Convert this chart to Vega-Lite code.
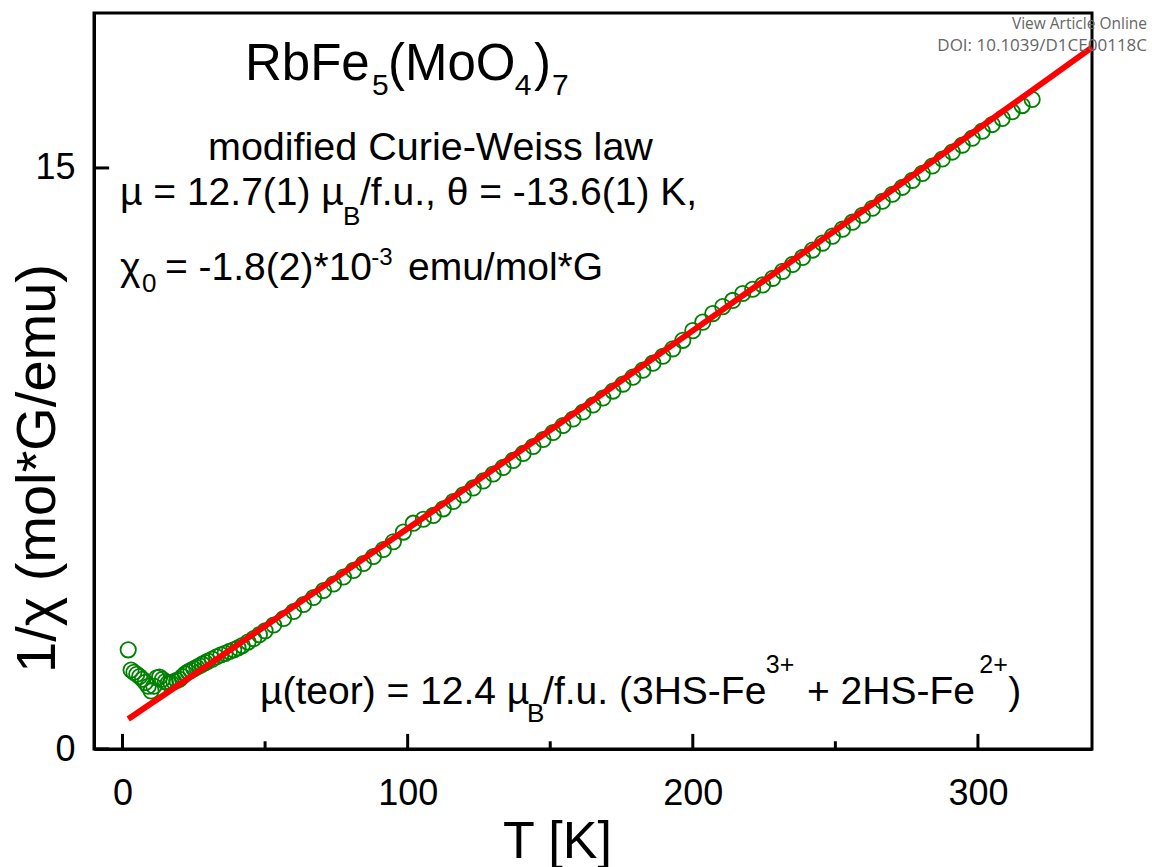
{
  "$schema": "https://vega.github.io/schema/vega-lite/v6.json",
  "width": 998,
  "height": 736,
  "autosize": "none",
  "padding": {"left": 94, "top": 13, "right": 60, "bottom": 118},
  "background": "white",
  "config": {
    "view": {"stroke": "black", "strokeWidth": 3},
    "font": "Liberation Sans",
    "axis": {"grid": false, "ticks": false, "domainColor": "black", "domainWidth": 3, "labelColor": "black", "titleColor": "black", "labelFont": "Liberation Sans", "titleFont": "Liberation Sans", "titleFontWeight": "normal", "labelFlush": false, "labelOverlap": false},
    "text": {"font": "Liberation Sans", "color": "black"}
  },
  "datasets": {
    "meas": [
      {"T": 2, "inv_chi": 2.56}, {"T": 3, "inv_chi": 2.04}, {"T": 4, "inv_chi": 1.98}, {"T": 5, "inv_chi": 1.93},
      {"T": 6, "inv_chi": 1.87}, {"T": 7, "inv_chi": 1.80}, {"T": 8, "inv_chi": 1.72}, {"T": 9, "inv_chi": 1.62},
      {"T": 10, "inv_chi": 1.50}, {"T": 11, "inv_chi": 1.62}, {"T": 12, "inv_chi": 1.84}, {"T": 13, "inv_chi": 1.86},
      {"T": 14, "inv_chi": 1.80}, {"T": 15, "inv_chi": 1.74}, {"T": 16, "inv_chi": 1.70}, {"T": 17, "inv_chi": 1.71},
      {"T": 18, "inv_chi": 1.74}, {"T": 19, "inv_chi": 1.77}, {"T": 20, "inv_chi": 1.80}, {"T": 21, "inv_chi": 1.87},
      {"T": 22, "inv_chi": 1.94}, {"T": 23, "inv_chi": 1.99}, {"T": 24, "inv_chi": 2.03}, {"T": 25, "inv_chi": 2.07},
      {"T": 26, "inv_chi": 2.11}, {"T": 27, "inv_chi": 2.15}, {"T": 28, "inv_chi": 2.19}, {"T": 29, "inv_chi": 2.23},
      {"T": 30, "inv_chi": 2.27}, {"T": 31.5, "inv_chi": 2.32}, {"T": 33, "inv_chi": 2.38}, {"T": 34.5, "inv_chi": 2.43},
      {"T": 36, "inv_chi": 2.47}, {"T": 37.5, "inv_chi": 2.52}, {"T": 39, "inv_chi": 2.56}, {"T": 40.5, "inv_chi": 2.61},
      {"T": 42, "inv_chi": 2.67}, {"T": 44, "inv_chi": 2.76}, {"T": 46, "inv_chi": 2.85},
      {"T": 48, "inv_chi": 2.95}, {"T": 50, "inv_chi": 3.05}, {"T": 53, "inv_chi": 3.20}, {"T": 56.5, "inv_chi": 3.37},
      {"T": 60, "inv_chi": 3.55}, {"T": 63.5, "inv_chi": 3.73}, {"T": 67, "inv_chi": 3.91}, {"T": 70.5, "inv_chi": 4.09},
      {"T": 74, "inv_chi": 4.26}, {"T": 77.5, "inv_chi": 4.44}, {"T": 81, "inv_chi": 4.61}, {"T": 84.5, "inv_chi": 4.79},
      {"T": 88, "inv_chi": 4.97}, {"T": 91.5, "inv_chi": 5.15}, {"T": 95, "inv_chi": 5.35}, {"T": 98.5, "inv_chi": 5.60},
      {"T": 102, "inv_chi": 5.83}, {"T": 105.5, "inv_chi": 5.93}, {"T": 109, "inv_chi": 6.03}, {"T": 112.5, "inv_chi": 6.20},
      {"T": 116, "inv_chi": 6.39}, {"T": 119.5, "inv_chi": 6.56}, {"T": 123, "inv_chi": 6.74}, {"T": 126.5, "inv_chi": 6.92},
      {"T": 130, "inv_chi": 7.10}, {"T": 133.5, "inv_chi": 7.27}, {"T": 137, "inv_chi": 7.45}, {"T": 140.5, "inv_chi": 7.63},
      {"T": 144, "inv_chi": 7.81}, {"T": 147.5, "inv_chi": 7.99}, {"T": 151, "inv_chi": 8.17}, {"T": 154.5, "inv_chi": 8.35},
      {"T": 158, "inv_chi": 8.52}, {"T": 161.5, "inv_chi": 8.70}, {"T": 165, "inv_chi": 8.88}, {"T": 168.5, "inv_chi": 9.06},
      {"T": 172, "inv_chi": 9.24}, {"T": 175.5, "inv_chi": 9.42}, {"T": 179, "inv_chi": 9.60}, {"T": 182.5, "inv_chi": 9.78},
      {"T": 186, "inv_chi": 9.96}, {"T": 189.5, "inv_chi": 10.14}, {"T": 193, "inv_chi": 10.33}, {"T": 196.5, "inv_chi": 10.55},
      {"T": 200, "inv_chi": 10.80}, {"T": 203.5, "inv_chi": 11.02}, {"T": 207, "inv_chi": 11.24}, {"T": 210.5, "inv_chi": 11.42},
      {"T": 214, "inv_chi": 11.58}, {"T": 217.5, "inv_chi": 11.76}, {"T": 221, "inv_chi": 11.87}, {"T": 224.5, "inv_chi": 11.98},
      {"T": 228, "inv_chi": 12.15}, {"T": 231.5, "inv_chi": 12.33}, {"T": 235, "inv_chi": 12.51}, {"T": 238.5, "inv_chi": 12.69},
      {"T": 242, "inv_chi": 12.88}, {"T": 245.5, "inv_chi": 13.06}, {"T": 249, "inv_chi": 13.24}, {"T": 252.5, "inv_chi": 13.42},
      {"T": 256, "inv_chi": 13.60}, {"T": 259.5, "inv_chi": 13.78}, {"T": 263, "inv_chi": 13.96}, {"T": 266.5, "inv_chi": 14.14},
      {"T": 270, "inv_chi": 14.32}, {"T": 273.5, "inv_chi": 14.50}, {"T": 277, "inv_chi": 14.68}, {"T": 280.5, "inv_chi": 14.86},
      {"T": 284, "inv_chi": 15.05}, {"T": 287.5, "inv_chi": 15.23}, {"T": 291, "inv_chi": 15.41}, {"T": 294.5, "inv_chi": 15.59},
      {"T": 298, "inv_chi": 15.77}, {"T": 301.5, "inv_chi": 15.95}, {"T": 305, "inv_chi": 16.12}, {"T": 308.5, "inv_chi": 16.28},
      {"T": 312, "inv_chi": 16.45}, {"T": 315.5, "inv_chi": 16.61}, {"T": 319, "inv_chi": 16.77}
    ],
    "fit": [
      {"T": 2, "inv_chi": 0.775}, {"T": 5, "inv_chi": 0.924}, {"T": 10, "inv_chi": 1.173}, {"T": 15, "inv_chi": 1.422},
      {"T": 20, "inv_chi": 1.672}, {"T": 30, "inv_chi": 2.171}, {"T": 40, "inv_chi": 2.672}, {"T": 50, "inv_chi": 3.173},
      {"T": 75, "inv_chi": 4.430}, {"T": 100, "inv_chi": 5.693}, {"T": 125, "inv_chi": 6.961}, {"T": 150, "inv_chi": 8.235},
      {"T": 175, "inv_chi": 9.515}, {"T": 200, "inv_chi": 10.801}, {"T": 225, "inv_chi": 12.093}, {"T": 250, "inv_chi": 13.391},
      {"T": 275, "inv_chi": 14.694}, {"T": 300, "inv_chi": 16.004}, {"T": 325, "inv_chi": 17.319}, {"T": 340, "inv_chi": 18.112}
    ],
    "xmajor": [{"T": 0}, {"T": 100}, {"T": 200}, {"T": 300}],
    "xminor": [{"T": 50}, {"T": 150}, {"T": 250}],
    "ymajor": [{"v": 0}, {"v": 15}],
    "one": [{}]
  },
  "layer": [
    {
      "data": {"name": "meas"},
      "mark": {"type": "point", "shape": "circle", "filled": false, "stroke": "#008000", "strokeWidth": 1.8, "size": 235, "opacity": 1},
      "encoding": {
        "x": {"field": "T", "type": "quantitative", "scale": {"domain": [-10, 340], "nice": false, "zero": false},
          "axis": {"title": "T [K]", "values": [0, 100, 200, 300],
            "labelFontSize": 36, "labelPadding": 27, "titleFontSize": 52, "titleX": 463, "titleY": 108, "titleBaseline": "alphabetic"}},
        "y": {"field": "inv_chi", "type": "quantitative", "scale": {"domain": [0, 19], "nice": false, "zero": false},
          "axis": {"title": "1/χ (mol*G/emu)", "values": [0, 15], "labelFontSize": 36, "labelPadding": 19,
            "titleFontSize": 56, "titleX": -40, "titleY": 455, "titleBaseline": "alphabetic", "titleAngle": -90}}
      }
    },
    {
      "data": {"name": "xmajor"},
      "mark": {"type": "rule", "color": "black", "strokeWidth": 3},
      "encoding": {
        "x": {"field": "T", "type": "quantitative"},
        "y": {"datum": 0, "type": "quantitative"},
        "y2": {"datum": 0.39}
      }
    },
    {
      "data": {"name": "xminor"},
      "mark": {"type": "rule", "color": "black", "strokeWidth": 3},
      "encoding": {
        "x": {"field": "T", "type": "quantitative"},
        "y": {"datum": 0, "type": "quantitative"},
        "y2": {"datum": 0.2}
      }
    },
    {
      "data": {"name": "ymajor"},
      "mark": {"type": "rule", "color": "black", "strokeWidth": 3},
      "encoding": {
        "y": {"field": "v", "type": "quantitative"},
        "x": {"datum": -10, "type": "quantitative"},
        "x2": {"datum": -4.7}
      }
    },
    {
      "data": {"name": "fit"},
      "mark": {"type": "line", "color": "#ff0000", "strokeWidth": 6},
      "encoding": {
        "x": {"field": "T", "type": "quantitative"},
        "y": {"field": "inv_chi", "type": "quantitative"}
      }
    },
    {"data": {"name": "one"}, "mark": {"type": "text", "text": "RbFe", "fontSize": 51, "align": "left", "baseline": "alphabetic"},
     "encoding": {"x": {"datum": 42.96, "type": "quantitative"}, "y": {"datum": 17.27, "type": "quantitative"}}},
    {"data": {"name": "one"}, "mark": {"type": "text", "text": "5", "fontSize": 30, "align": "left", "baseline": "alphabetic"},
     "encoding": {"x": {"datum": 87.5, "type": "quantitative"}, "y": {"datum": 16.88, "type": "quantitative"}}},
    {"data": {"name": "one"}, "mark": {"type": "text", "text": "(MoO", "fontSize": 51, "align": "left", "baseline": "alphabetic"},
     "encoding": {"x": {"datum": 93.1, "type": "quantitative"}, "y": {"datum": 17.27, "type": "quantitative"}}},
    {"data": {"name": "one"}, "mark": {"type": "text", "text": "4", "fontSize": 30, "align": "left", "baseline": "alphabetic"},
     "encoding": {"x": {"datum": 137.6, "type": "quantitative"}, "y": {"datum": 16.88, "type": "quantitative"}}},
    {"data": {"name": "one"}, "mark": {"type": "text", "text": ")", "fontSize": 51, "align": "left", "baseline": "alphabetic"},
     "encoding": {"x": {"datum": 144.3, "type": "quantitative"}, "y": {"datum": 17.27, "type": "quantitative"}}},
    {"data": {"name": "one"}, "mark": {"type": "text", "text": "7", "fontSize": 30, "align": "left", "baseline": "alphabetic"},
     "encoding": {"x": {"datum": 150.6, "type": "quantitative"}, "y": {"datum": 16.88, "type": "quantitative"}}},
    {"data": {"name": "one"}, "mark": {"type": "text", "text": "modified Curie-Weiss law", "fontSize": 39.5, "align": "left", "baseline": "alphabetic"},
     "encoding": {"x": {"datum": 29.98, "type": "quantitative"}, "y": {"datum": 15.21, "type": "quantitative"}}},
    {"data": {"name": "one"}, "mark": {"type": "text", "text": "µ = 12.7(1) µ", "fontSize": 39, "align": "left", "baseline": "alphabetic"},
     "encoding": {"x": {"datum": -0.88, "type": "quantitative"}, "y": {"datum": 14.04, "type": "quantitative"}}},
    {"data": {"name": "one"}, "mark": {"type": "text", "text": "B", "fontSize": 26, "align": "left", "baseline": "alphabetic"},
     "encoding": {"x": {"datum": 77.33, "type": "quantitative"}, "y": {"datum": 13.53, "type": "quantitative"}}},
    {"data": {"name": "one"}, "mark": {"type": "text", "text": "/f.u., θ = -13.6(1) K,", "fontSize": 39, "align": "left", "baseline": "alphabetic"},
     "encoding": {"x": {"datum": 83.29, "type": "quantitative"}, "y": {"datum": 14.04, "type": "quantitative"}}},
    {"data": {"name": "one"}, "mark": {"type": "text", "text": "χ", "fontSize": 39, "align": "left", "baseline": "alphabetic"},
     "encoding": {"x": {"datum": -0.88, "type": "quantitative"}, "y": {"datum": 12.11, "type": "quantitative"}}},
    {"data": {"name": "one"}, "mark": {"type": "text", "text": "0", "fontSize": 26, "align": "left", "baseline": "alphabetic"},
     "encoding": {"x": {"datum": 6.8, "type": "quantitative"}, "y": {"datum": 11.8, "type": "quantitative"}}},
    {"data": {"name": "one"}, "mark": {"type": "text", "text": "= -1.8(2)*10", "fontSize": 39, "align": "left", "baseline": "alphabetic"},
     "encoding": {"x": {"datum": 14.9, "type": "quantitative"}, "y": {"datum": 12.11, "type": "quantitative"}}},
    {"data": {"name": "one"}, "mark": {"type": "text", "text": "-3", "fontSize": 24, "align": "left", "baseline": "alphabetic"},
     "encoding": {"x": {"datum": 87.2, "type": "quantitative"}, "y": {"datum": 12.49, "type": "quantitative"}}},
    {"data": {"name": "one"}, "mark": {"type": "text", "text": "emu/mol*G", "fontSize": 39, "align": "left", "baseline": "alphabetic"},
     "encoding": {"x": {"datum": 100.12, "type": "quantitative"}, "y": {"datum": 12.11, "type": "quantitative"}}},
    {"data": {"name": "one"}, "mark": {"type": "text", "text": "µ(teor) = 12.4 µ", "fontSize": 39, "align": "left", "baseline": "alphabetic"},
     "encoding": {"x": {"datum": 48.22, "type": "quantitative"}, "y": {"datum": 1.162, "type": "quantitative"}}},
    {"data": {"name": "one"}, "mark": {"type": "text", "text": "B", "fontSize": 26, "align": "left", "baseline": "alphabetic"},
     "encoding": {"x": {"datum": 141.85, "type": "quantitative"}, "y": {"datum": 0.697, "type": "quantitative"}}},
    {"data": {"name": "one"}, "mark": {"type": "text", "text": "/f.u. (3HS-Fe", "fontSize": 39, "align": "left", "baseline": "alphabetic"},
     "encoding": {"x": {"datum": 147.5, "type": "quantitative"}, "y": {"datum": 1.162, "type": "quantitative"}}},
    {"data": {"name": "one"}, "mark": {"type": "text", "text": "3+", "fontSize": 25, "align": "left", "baseline": "alphabetic"},
     "encoding": {"x": {"datum": 225.6, "type": "quantitative"}, "y": {"datum": 1.95, "type": "quantitative"}}},
    {"data": {"name": "one"}, "mark": {"type": "text", "text": "+ 2HS-Fe", "fontSize": 39, "align": "left", "baseline": "alphabetic"},
     "encoding": {"x": {"datum": 240.05, "type": "quantitative"}, "y": {"datum": 1.162, "type": "quantitative"}}},
    {"data": {"name": "one"}, "mark": {"type": "text", "text": "2+", "fontSize": 25, "align": "left", "baseline": "alphabetic"},
     "encoding": {"x": {"datum": 300.5, "type": "quantitative"}, "y": {"datum": 1.95, "type": "quantitative"}}},
    {"data": {"name": "one"}, "mark": {"type": "text", "text": ")", "fontSize": 39, "align": "left", "baseline": "alphabetic"},
     "encoding": {"x": {"datum": 310.6, "type": "quantitative"}, "y": {"datum": 1.162, "type": "quantitative"}}},
    {"data": {"name": "one"}, "mark": {"type": "text", "text": "View Article Online", "fontSize": 15.5, "font": "Open Sans", "color": "#666666", "align": "right", "baseline": "alphabetic"},
     "encoding": {"x": {"datum": 359.3, "type": "quantitative"}, "y": {"datum": 18.58, "type": "quantitative"}}},
    {"data": {"name": "one"}, "mark": {"type": "text", "text": "DOI: 10.1039/D1CE00118C", "fontSize": 17, "font": "Open Sans", "color": "#666666", "align": "right", "baseline": "alphabetic"},
     "encoding": {"x": {"datum": 359.3, "type": "quantitative"}, "y": {"datum": 18.03, "type": "quantitative"}}}
  ]
}
